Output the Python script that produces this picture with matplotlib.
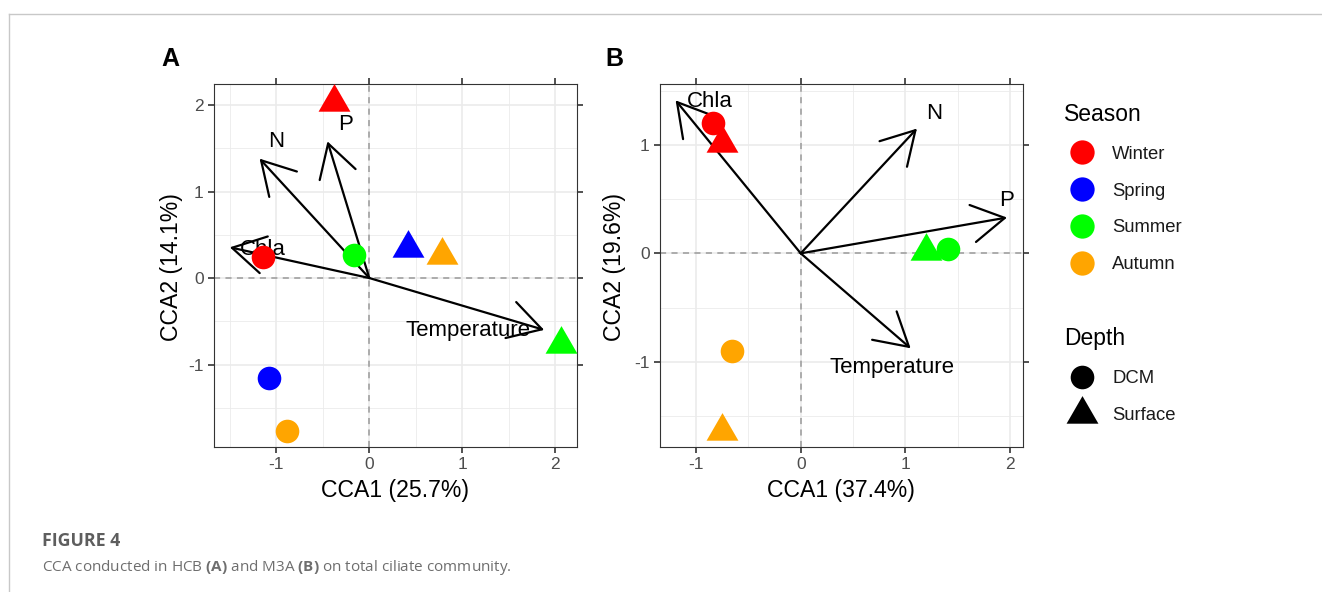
import matplotlib
matplotlib.use("Agg")
import matplotlib.pyplot as plt
from matplotlib.lines import Line2D
from matplotlib.ticker import MultipleLocator

plt.rcParams['font.family'] = ['Liberation Sans', 'DejaVu Sans']
plt.rcParams['axes.unicode_minus'] = False
plt.rcParams['mathtext.fontset'] = 'custom'
plt.rcParams['mathtext.rm'] = 'Open Sans'
plt.rcParams['mathtext.bf'] = 'Open Sans:bold'

# ---------------- data ----------------
seasons = ['Winter', 'Spring', 'Summer', 'Autumn']
season_colors = ['#FF0000', '#0000FF', '#00FF00', '#FFA500']
depths = ['DCM', 'Surface']

# Panel A (HCB) site scores
a_season = ['Winter', 'Winter', 'Spring', 'Spring', 'Summer', 'Summer', 'Autumn', 'Autumn']
a_depth = ['DCM', 'Surface', 'DCM', 'Surface', 'DCM', 'Surface', 'DCM', 'Surface']
a_cca1 = [-1.14, -0.38, -1.08, 0.42, -0.165, 2.06, -0.885, 0.785]
a_cca2 = [0.24, 2.04, -1.16, 0.35, 0.27, -0.765, -1.77, 0.27]

# Panel A environmental vectors
env_vars = ['Temperature', 'N', 'P', 'Chla']
a_env_cca1 = [1.88, -1.18, -0.45, -1.50]
a_env_cca2 = [-0.60, 1.38, 1.58, 0.355]
a_lab_cca1 = [1.065, -1.0, -0.26, -1.15]
a_lab_cca2 = [-0.61, 1.58, 1.77, 0.33]

# Panel B (M3A) site scores
b_season = ['Winter', 'Winter', 'Summer', 'Summer', 'Autumn', 'Autumn']
b_depth = ['DCM', 'Surface', 'DCM', 'Surface', 'DCM', 'Surface']
b_cca1 = [-0.84, -0.75, 1.41, 1.20, -0.653, -0.75]
b_cca2 = [1.20, 1.02, 0.037, 0.024, -0.90, -1.64]

# Panel B environmental vectors
b_env_cca1 = [1.05, 1.11, 1.97, -1.195]
b_env_cca2 = [-0.875, 1.15, 0.33, 1.41]
b_lab_cca1 = [0.875, 1.27, 1.97, -0.866]
b_lab_cca2 = [-1.05, 1.29, 0.49, 1.40]

a_xlabel, a_ylabel = 'CCA1 (25.7%)', 'CCA2 (14.1%)'
b_xlabel, b_ylabel = 'CCA1 (37.4%)', 'CCA2 (19.6%)'
a_ticks = [-1, 0, 1, 2]
b_xticks = [-1, 0, 1, 2]
b_yticks = [-1, 0, 1]

# ---------------- figure ----------------
W, H = 1322, 592
fig = plt.figure(figsize=(W / 100, H / 100), dpi=100)
fig.patch.set_facecolor('white')


def fx(px):
    return px / W


def fy(py):
    return 1 - py / H


tri = [(0, 1), (-0.866, -0.5), (0.866, -0.5)]
marker_for = {'DCM': 'o', 'Surface': tri}
size_for = {'DCM': 17, 'Surface': 26.5}
color_for = dict(zip(seasons, season_colors))


def panel(ax, xs, ys, ss, ds, ex, ey, lx, ly, xlim, ylim, xticks, yticks):
    ax.set_xlim(*xlim)
    ax.set_ylim(*ylim)
    ax.set_xticks(xticks)
    ax.set_yticks(yticks)
    ax.xaxis.set_minor_locator(MultipleLocator(0.5))
    ax.yaxis.set_minor_locator(MultipleLocator(0.5))
    ax.grid(which='major', color='#EBEBEB', lw=1.2)
    ax.grid(which='minor', color='#EBEBEB', lw=0.6)
    ax.set_axisbelow(True)
    ax.tick_params(which='major', direction='out', top=True, right=True,
                   labeltop=False, labelright=False, length=4.3, width=1.2,
                   color='#333333', labelcolor='#4D4D4D', labelsize=12.5, pad=3)
    ax.tick_params(which='minor', length=0)
    for sp in ax.spines.values():
        sp.set_color('#333333')
        sp.set_linewidth(0.8)
    ax.axhline(0, color='#9A9A9A', lw=1.1, ls=(0, (4, 3.5)), zorder=1.5)
    ax.axvline(0, color='#9A9A9A', lw=1.1, ls=(0, (4, 3.5)), zorder=1.5)
    for vx, vy, tx, ty, name in zip(ex, ey, lx, ly, env_vars):
        ax.annotate('', xy=(vx, vy), xytext=(0, 0), xycoords='data', textcoords='data',
                    arrowprops=dict(arrowstyle='->,head_length=23.4,head_width=13.5',
                                    mutation_scale=1, lw=1.6, color='black',
                                    shrinkA=0, shrinkB=0), zorder=2, annotation_clip=False)
        ax.text(tx, ty, name, ha='center', va='center', fontsize=16, color='black', zorder=2.5)
    for x, y, s, d in zip(xs, ys, ss, ds):
        ax.plot([x], [y], ls='', marker=marker_for[d], markersize=size_for[d],
                color=color_for[s], markeredgewidth=0, zorder=3)


axA = fig.add_axes([fx(214), fy(446.7), fx(576.7) - fx(214), fy(84) - fy(446.7)])
panel(axA, a_cca1, a_cca2, a_season, a_depth, a_env_cca1, a_env_cca2, a_lab_cca1, a_lab_cca2,
      (-1.67, 2.23), (-1.95, 2.243), a_ticks, a_ticks)

axB = fig.add_axes([fx(660), fy(446.7), fx(1022.7) - fx(660), fy(84.3) - fy(446.7)])
panel(axB, b_cca1, b_cca2, b_season, b_depth, b_env_cca1, b_env_cca2, b_lab_cca1, b_lab_cca2,
      (-1.344, 2.12), (-1.782, 1.558), b_xticks, b_yticks)

# axis titles
fig.text(fx(395.4), fy(490), a_xlabel, ha='center', va='center', fontsize=16.6, color='black')
fig.text(fx(171.7), fy(266.7), a_ylabel, ha='center', va='center', rotation=90, fontsize=16.6, color='black')
fig.text(fx(841.4), fy(490), b_xlabel, ha='center', va='center', fontsize=16.6, color='black')
fig.text(fx(615), fy(266.7), b_ylabel, ha='center', va='center', rotation=90, fontsize=16.6, color='black')

# panel tags
fig.text(fx(161), fy(66), 'A', ha='left', va='baseline', fontsize=18, fontweight='bold')
fig.text(fx(605), fy(66.5), 'B', ha='left', va='baseline', fontsize=18, fontweight='bold')

# legends
season_handles = [Line2D([], [], ls='', marker='o', markersize=17.5, color=c, markeredgewidth=0)
                  for c in season_colors]
depth_handles = [Line2D([], [], ls='', marker=marker_for[d], markersize=size_for[d],
                        color='black', markeredgewidth=0) for d in depths]
common = dict(loc='upper left', frameon=False, fontsize=13.3, title_fontsize=16.5,
              alignment='left', borderpad=0, borderaxespad=0, handlelength=1.95,
              handletextpad=0.67, labelspacing=1.07)
leg1 = fig.legend(season_handles, seasons, title='Season', bbox_to_anchor=(fx(1064), fy(103)), **common)
leg2 = fig.legend(depth_handles, depths, title='Depth', bbox_to_anchor=(fx(1064), fy(327.5)), **common)
for lg in (leg1, leg2):
    for t in lg.get_texts():
        t.set_color('#1A1A1A')

# outer frame lines
fig.add_artist(Line2D([fx(9), 1], [fy(14), fy(14)], transform=fig.transFigure, color='#C8C8C8', lw=1.0))
fig.add_artist(Line2D([fx(9), fx(9)], [fy(14), 0], transform=fig.transFigure, color='#C8C8C8', lw=1.0))

# caption
fig.text(fx(41.7), fy(546), 'FIGURE 4', family='Open Sans', fontweight='bold', fontsize=12.8,
         color='#5E5E5E', ha='left', va='baseline')
fig.text(fx(41.7), fy(571),
         r'CCA conducted in HCB $\mathbf{(A)}$ and M3A $\mathbf{(B)}$ on total ciliate community.',
         family='Open Sans', fontsize=11, color='#6E6E6E', ha='left', va='baseline')

fig.savefig('out.png', dpi=100, facecolor='white')
